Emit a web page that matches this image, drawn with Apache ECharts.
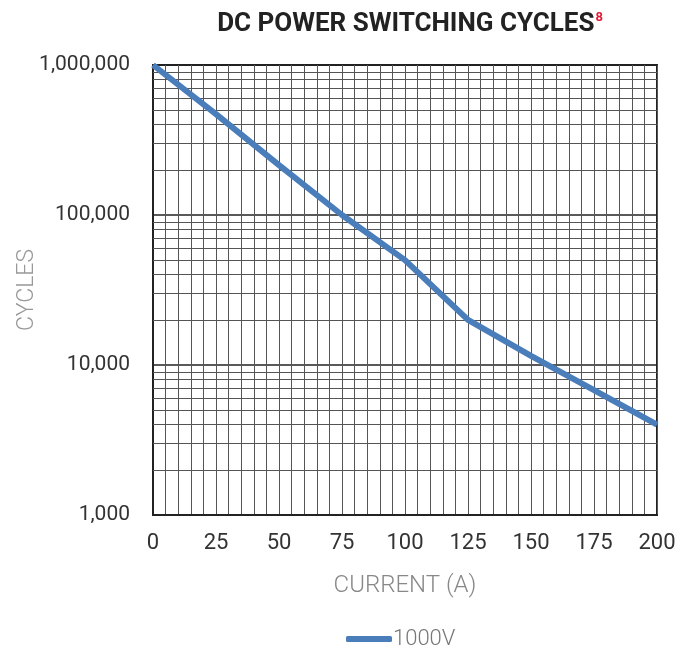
<!DOCTYPE html>
<html>
<head>
<meta charset="utf-8">
<script src="https://cdn.jsdelivr.net/npm/echarts@6/dist/echarts.min.js"></script>
<style>
  html, body { margin: 0; padding: 0; background: #fff; }
  #chart { width: 691px; height: 649px; }
</style>
</head>
<body>
<div id="chart"></div>
<script>
// current (A) vs switching cycles
var current = [0, 25, 50, 75, 100, 125, 150, 175, 200];
var cycles1000V = [1000000, 470000, 215000, 100000, 50000, 20000, 11500, 6800, 4000];

// log grid minor lines (2..9 in each decade)
var minorLines = [2000, 3000, 4000, 5000, 6000, 7000, 8000, 9000,
    20000, 30000, 40000, 50000, 60000, 70000, 80000, 90000,
    200000, 300000, 400000, 500000, 600000, 700000, 800000, 900000];

var myChart = echarts.init(document.getElementById('chart'));
var font = 'Roboto, sans-serif';

var option = {
    animation: false,
    title: {
        text: '{t|DC POWER SWITCHING CYCLES}{s|8}',
        left: 405,
        top: 6,
        textAlign: 'center',
        textStyle: {
            rich: {
                t: { fontFamily: font, fontWeight: 'bold', fontSize: 26, color: '#222' },
                s: { fontFamily: font, fontWeight: 'bold', fontSize: 13, color: '#e31937', verticalAlign: 'top', padding: [0, 0, 12, 1] }
            }
        }
    },
    legend: {
        top: 623,
        left: 341,
        itemWidth: 46,
        itemHeight: 6,
        itemGap: 4,
        data: [{ name: '1000V', icon: 'roundRect' }],
        textStyle: { fontFamily: font, fontSize: 22, color: '#777', fontWeight: 300, padding: [0, 0, 0, -4] }
    },
    grid: {
        left: 153, right: 34, top: 65, bottom: 134,
        outerBoundsMode: 'none',
        show: true, borderColor: '#222', borderWidth: 2
    },
    xAxis: {
        type: 'value',
        min: 0, max: 200, interval: 5,
        name: 'CURRENT (A)',
        nameLocation: 'middle',
        nameGap: 59,
        nameTextStyle: { fontFamily: font, fontSize: 24, color: '#888', fontWeight: 300 },
        axisLine: { show: true, lineStyle: { color: '#222', width: 2 } },
        axisTick: { show: false },
        axisLabel: {
            margin: 17,
            fontFamily: font, fontSize: 22, color: '#333',
            formatter: function (v) { return v % 25 === 0 ? String(v) : ''; }
        },
        splitLine: { show: true, lineStyle: { color: '#555', width: 1 } }
    },
    yAxis: {
        type: 'log',
        logBase: 10,
        min: 1000, max: 1000000,
        name: 'CYCLES',
        nameLocation: 'middle',
        nameGap: 114,
        nameMoveOverlap: false,
        nameRotate: 90,
        nameTextStyle: { fontFamily: font, fontSize: 23, color: '#999', fontWeight: 300 },
        axisLine: { show: true, lineStyle: { color: '#222', width: 2 } },
        axisTick: { show: false },
        axisLabel: {
            margin: 23,
            fontFamily: font, fontSize: 21, color: '#333',
            formatter: function (v) { return Math.round(v).toLocaleString('en-US'); }
        },
        splitLine: { show: true, lineStyle: { color: '#222', width: 1.5 } }
    },
    series: [
        {
            name: '1000V',
            type: 'line',
            data: current.map(function (c, i) { return [c, cycles1000V[i]]; }),
            symbol: 'none',
            z: 5,
            lineStyle: { color: '#4a7ebb', width: 6 },
            itemStyle: { color: '#4a7ebb' },
            markLine: {
                silent: true,
                symbol: 'none',
                label: { show: false },
                lineStyle: { color: '#555', width: 1, type: 'solid' },
                data: minorLines.map(function (v) { return { yAxis: v }; }),
                z: 1
            }
        }
    ]
};

myChart.setOption(option);
window.addEventListener('resize', function () {
    myChart.resize();
});
</script>
</body>
</html>
